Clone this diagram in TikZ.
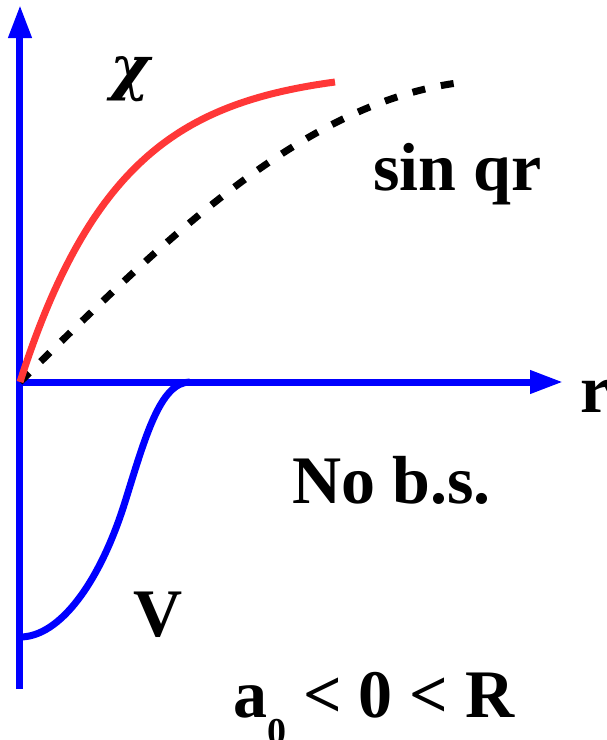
\documentclass[tikz,border=0pt]{standalone}
\usepackage{fontspec}
\setmainfont{Liberation Serif}
\newfontfamily\chifont{DejaVu Serif}
\usetikzlibrary{arrows.meta}
\definecolor{chired}{RGB}{255,55,55}

\begin{document}
\begin{tikzpicture}[
  x=1pt, y=1pt,
  axis/.style={line width=7pt, blue, -{Triangle[length=33pt, width=22pt]}},
  wave/.style={line width=7pt, chired},
  free/.style={line width=7pt, black, dash pattern=on 13pt off 16pt},
  pot/.style={line width=7pt, blue},
  lbl/.style={inner sep=0pt, anchor=base west, font=\bfseries\fontsize{68}{68}\selectfont},
]
  \useasboundingbox (-20,-358) rectangle (586,382);
  % axes
  \coordinate (O) at (0,0);
  \coordinate (ybot) at (0,-307);
  \coordinate (ytip) at (0,377);
  \coordinate (xtip) at (543,0);
  \draw[axis] (ybot) -- (ytip);
  \draw[axis] (O) -- (xtip);

  % potential well
  \draw[pot] (0,-255) .. controls (40,-255) and (80,-200) .. (105,-120)
             .. controls (125,-56) and (140,0) .. (170,0);

  % free wave and scattered wave
  \draw[free] plot[domain=0:447, samples=120] (\x, {302*sin(\x/480*90)});
  \draw[wave] plot[domain=0:315, samples=120] (\x, {313.4*(1-exp(-\x/100))});

  % labels
  \node[lbl, font=\chifont\bfseries\itshape\fontsize{60}{60}\selectfont] (chi) at (90,294) {χ};
  \node[lbl] (sinqr) at (353,192) {sin qr};
  \node[lbl] (rlab) at (560,-30) {r};
  \node[lbl] (nobs) at (272,-121) {No b.s.};
  \node[lbl] (vlab) at (113,-254) {V};
  \node[lbl] (cond) at (213,-335)
    {a\raisebox{-27pt}{\fontsize{38}{38}\selectfont 0} < 0 < R};
\end{tikzpicture}
\end{document}
